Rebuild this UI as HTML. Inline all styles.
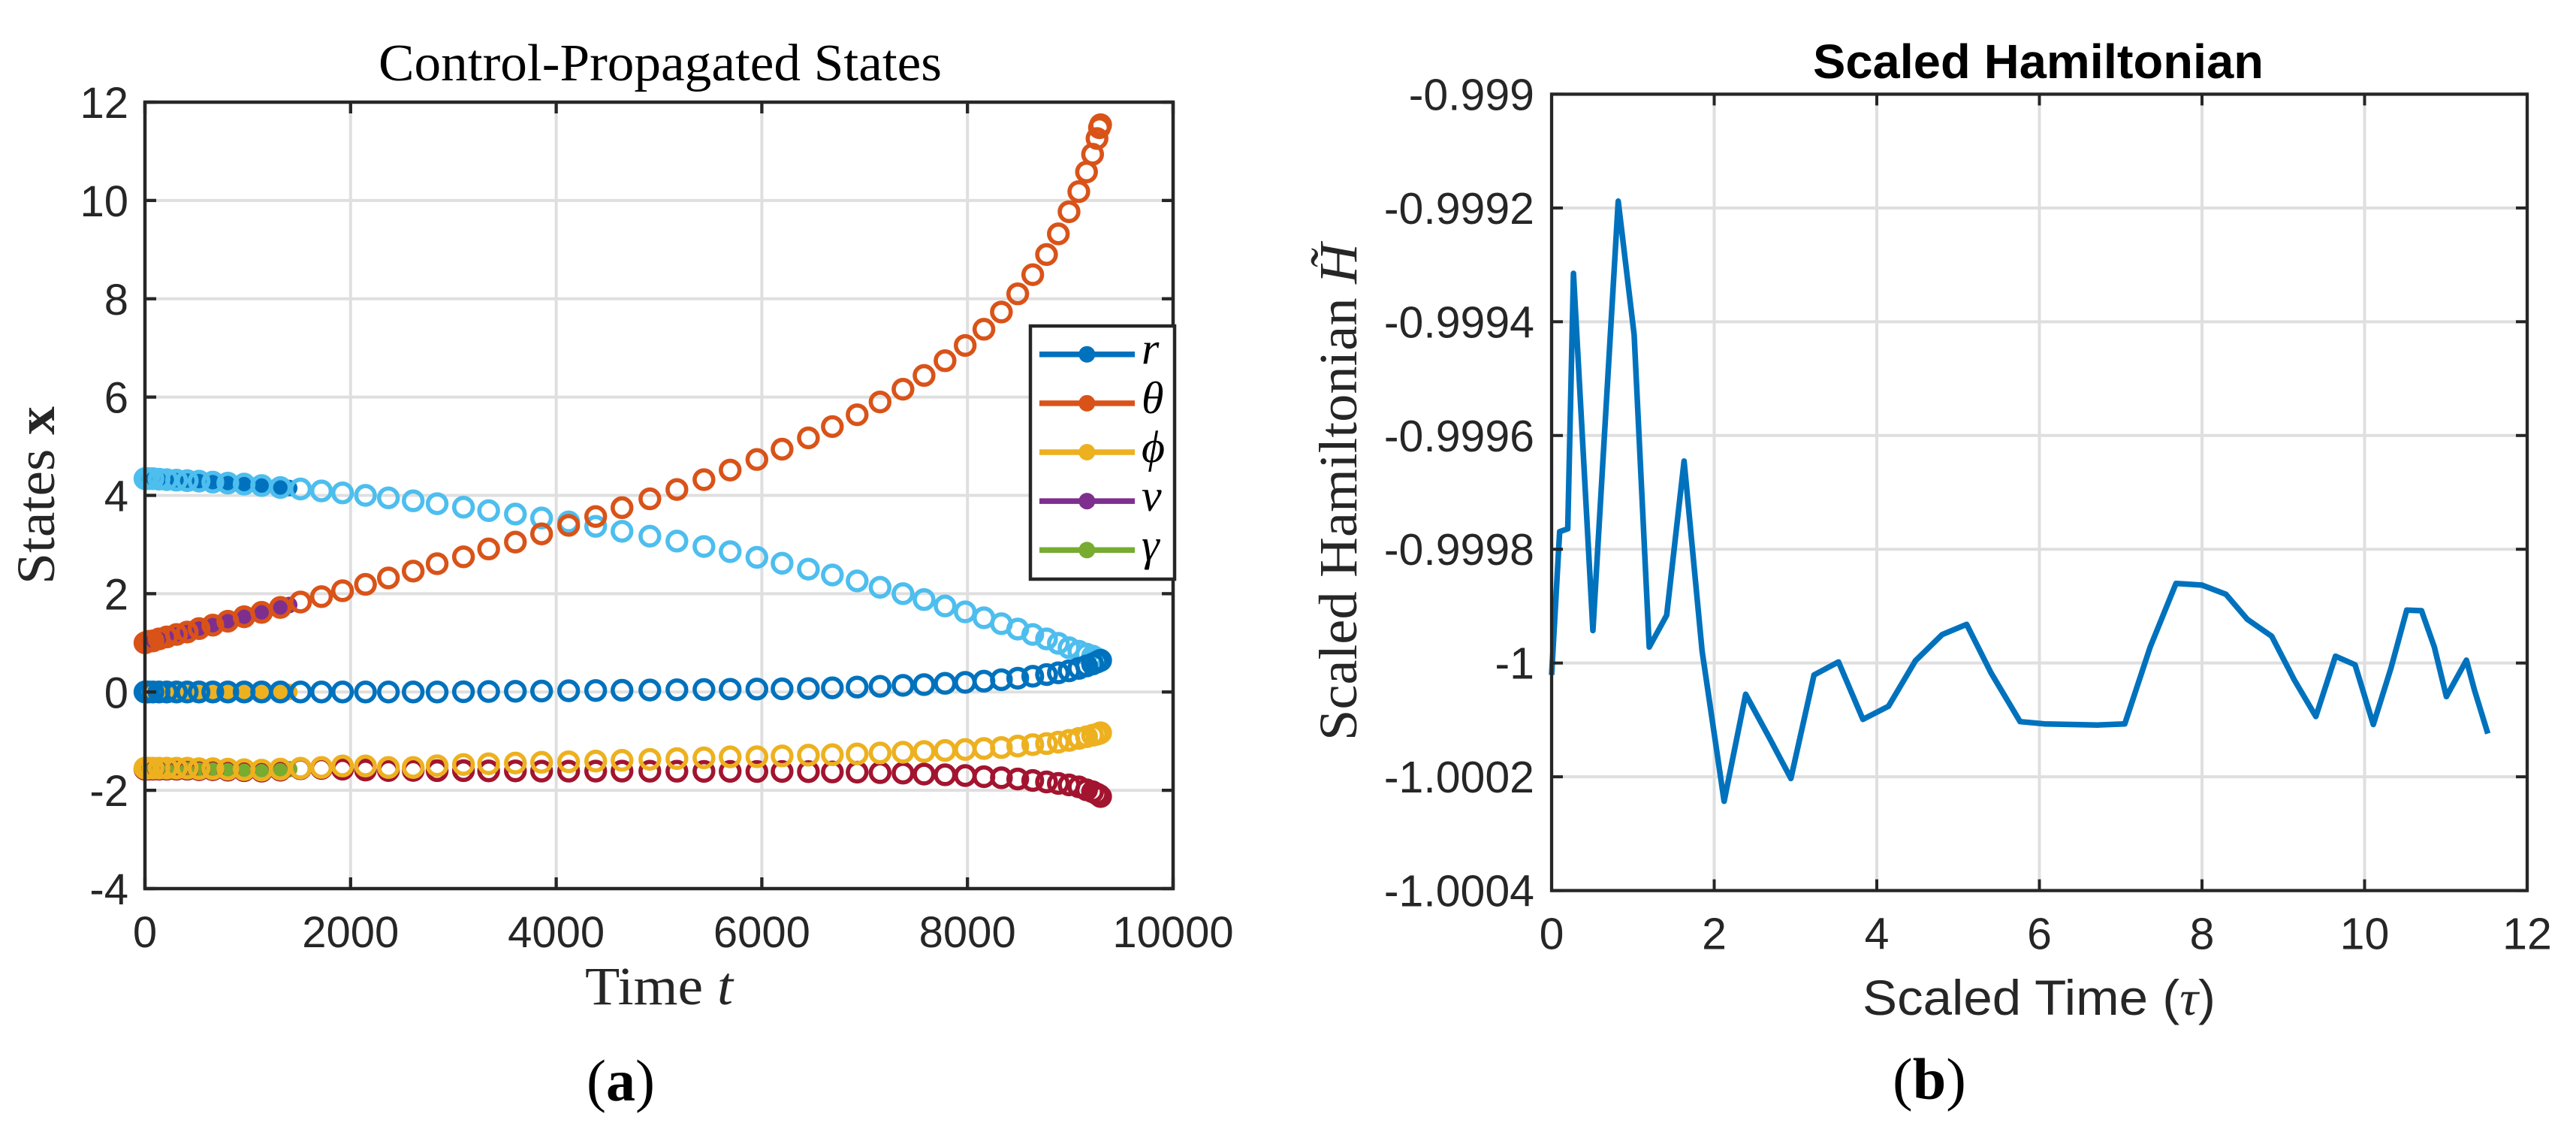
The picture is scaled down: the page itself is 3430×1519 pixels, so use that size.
<!DOCTYPE html>
<html lang="en">
<head>
<meta charset="utf-8">
<title>Control-Propagated States and Scaled Hamiltonian</title>
<style>
html,body{margin:0;padding:0;background:#fff;}
svg{display:block;}
.sans{font-family:"Liberation Sans",sans-serif;}
.serif{font-family:"Liberation Serif",serif;}
</style>
</head>
<body>
<svg id="figure" xmlns="http://www.w3.org/2000/svg" width="3430" height="1519" viewBox="0 0 3430 1519">
  <rect width="3430" height="1519" fill="#fff"/>
  <g id="left-chart"></g>
  <g id="right-chart"></g>

  <text class="serif" x="504" y="107" font-size="70" fill="#000" textLength="750" lengthAdjust="spacingAndGlyphs">Control-Propagated States</text>
  <text class="serif" x="779" y="1337" font-size="72" fill="#262626" textLength="197" lengthAdjust="spacingAndGlyphs">Time <tspan font-style="italic">t</tspan></text>
  <text class="serif" transform="translate(72,778) rotate(-90)" font-size="72" fill="#262626" textLength="237" lengthAdjust="spacingAndGlyphs">States <tspan font-weight="bold">x</tspan></text>
  <text class="serif" x="781" y="1465" font-size="78" fill="#000" textLength="91" lengthAdjust="spacingAndGlyphs">(<tspan font-weight="bold">a</tspan>)</text>

  <text class="sans" x="2414" y="104" font-size="64" font-weight="bold" fill="#000" textLength="600" lengthAdjust="spacingAndGlyphs">Scaled Hamiltonian</text>
  <text class="sans" x="2480" y="1351" font-size="66" fill="#262626" textLength="470" lengthAdjust="spacingAndGlyphs">Scaled Time (<tspan class="serif" font-style="italic">τ</tspan>)</text>
  <text class="serif" transform="translate(1806,986) rotate(-90)" font-size="72" fill="#262626" textLength="662" lengthAdjust="spacingAndGlyphs">Scaled Hamiltonian <tspan font-style="italic">H̃</tspan></text>
  <text class="serif" x="2520" y="1463" font-size="78" fill="#000" textLength="98" lengthAdjust="spacingAndGlyphs">(<tspan font-weight="bold">b</tspan>)</text>
</svg>

<script>
/* ---------- Panel (a) data ---------- */
const statesXTicks = [0, 2000, 4000, 6000, 8000, 10000];
const statesYTicks = [-4, -2, 0, 2, 4, 6, 8, 10, 12];

const ringTime = [0,11,35,78,137,212,307,411,526,660,806,965,1135,1317,1513,1717,1922,2145,2368,2609,2842,3098,3343,3603,3858,4121,4384,4640,4911,5174,5437,5692,5952,6197,6453,6686,6927,7150,7373,7578,7782,7978,8160,8330,8489,8635,8769,8884,8988,9083,9158,9217,9260,9284,9295];
const ringLightBlue = [4.34,4.34,4.34,4.34,4.33,4.32,4.31,4.30,4.29,4.27,4.25,4.23,4.20,4.16,4.13,4.09,4.05,4.00,3.95,3.89,3.83,3.76,3.69,3.62,3.54,3.46,3.37,3.27,3.17,3.07,2.96,2.855,2.74,2.62,2.50,2.38,2.26,2.13,2.00,1.88,1.75,1.63,1.51,1.39,1.28,1.17,1.08,0.99,0.90,0.83,0.77,0.73,0.68,0.66,0.64];
const ringDarkRed = [-1.57,-1.57,-1.57,-1.57,-1.57,-1.57,-1.57,-1.57,-1.58,-1.58,-1.59,-1.60,-1.61,-1.59,-1.56,-1.555,-1.57,-1.587,-1.597,-1.595,-1.60,-1.60,-1.605,-1.605,-1.61,-1.61,-1.61,-1.61,-1.612,-1.612,-1.615,-1.615,-1.617,-1.617,-1.62,-1.627,-1.63,-1.64,-1.65,-1.67,-1.684,-1.70,-1.724,-1.745,-1.77,-1.80,-1.83,-1.86,-1.89,-1.93,-1.99,-2.03,-2.075,-2.105,-2.127];
const ringBlue = [0,0,0,0,0,0,0,0,0,0,0,0,0,0,0,0,0,0,0,0,0,0.005,0.01,0.015,0.02,0.025,0.03,0.035,0.04,0.045,0.05,0.055,0.06,0.064,0.07,0.084,0.10,0.115,0.135,0.15,0.176,0.196,0.22,0.25,0.28,0.32,0.355,0.39,0.43,0.48,0.53,0.57,0.61,0.635,0.645];
const ringOrange = [1.00,1.01,1.03,1.04,1.08,1.12,1.17,1.22,1.29,1.36,1.44,1.53,1.62,1.72,1.83,1.94,2.06,2.19,2.32,2.46,2.61,2.75,2.91,3.05,3.217,3.39,3.57,3.75,3.93,4.12,4.32,4.515,4.73,4.94,5.17,5.40,5.64,5.90,6.16,6.44,6.74,7.05,7.38,7.73,8.10,8.49,8.90,9.32,9.77,10.18,10.58,10.94,11.26,11.48,11.54];
const ringYellow = [-1.55,-1.55,-1.55,-1.55,-1.55,-1.55,-1.55,-1.55,-1.56,-1.56,-1.57,-1.58,-1.59,-1.57,-1.55,-1.536,-1.505,-1.505,-1.536,-1.536,-1.50,-1.475,-1.46,-1.445,-1.43,-1.42,-1.405,-1.39,-1.37,-1.355,-1.34,-1.32,-1.317,-1.30,-1.285,-1.276,-1.26,-1.24,-1.225,-1.21,-1.19,-1.17,-1.15,-1.13,-1.10,-1.07,-1.05,-1.02,-0.985,-0.945,-0.91,-0.88,-0.86,-0.84,-0.83];

const dotTime = [0,11,35,78,137,212,307,411,526,660,806,965,1135,1317,1403];
const dotR = [4.34,4.34,4.34,4.34,4.33,4.32,4.31,4.30,4.29,4.27,4.25,4.23,4.20,4.16,4.15];
const dotTheta = [0,0,0,0,0,0,0,0,0,0,0,0,0,0,0];
const dotPhi = [0,0,0,0,0,0,0,0,0,0,0,0,0,0,0];
const dotV = [1.00,1.01,1.03,1.04,1.08,1.12,1.17,1.22,1.29,1.36,1.44,1.53,1.62,1.72,1.77];
const dotGamma = [-1.57,-1.57,-1.57,-1.57,-1.57,-1.57,-1.57,-1.57,-1.57,-1.57,-1.57,-1.57,-1.57,-1.57,-1.57];

const legendLabels = ["r", "θ", "ϕ", "v", "γ"];

/* ---------- Panel (b) data ---------- */
const hamXTicks = [0, 2, 4, 6, 8, 10, 12];
const hamYTicks = [-1.0004, -1.0002, -1, -0.9998, -0.9996, -0.9994, -0.9992, -0.999];
const hamYTickLabels = ["-1.0004", "-1.0002", "-1", "-0.9998", "-0.9996", "-0.9994", "-0.9992", "-0.999"];
const hamTau = [0,0.099,0.199,0.269,0.508,0.819,1.015,1.201,1.415,1.630,1.851,2.122,2.387,2.677,2.943,3.228,3.529,3.829,4.144,4.475,4.804,5.105,5.404,5.763,6.064,6.402,6.721,7.050,7.363,7.680,7.998,8.294,8.557,8.858,9.133,9.400,9.642,9.883,10.107,10.322,10.518,10.700,10.858,11.006,11.253,11.352,11.516];
const hamValue = [-1.000021,-0.999769,-0.999764,-0.999315,-0.999943,-0.999188,-0.999423,-0.999972,-0.999916,-0.999645,-0.999979,-1.000243,-1.000055,-1.000131,-1.000203,-1.000021,-0.999998,-1.000099,-1.000076,-0.999996,-0.99995,-0.999932,-1.000017,-1.000103,-1.000107,-1.000108,-1.000109,-1.000107,-0.999972,-0.99986,-0.999863,-0.999879,-0.999923,-0.999953,-1.000029,-1.000094,-0.999988,-1.000003,-1.000108,-1.00001,-0.999907,-0.999908,-0.999972,-1.000059,-0.999995,-1.000048,-1.000124];

/* ---------- Helpers ---------- */
const NS = "http://www.w3.org/2000/svg";
function mk(parent, tag, attrs, text) {
  const el = document.createElementNS(NS, tag);
  for (const k in attrs) el.setAttribute(k, attrs[k]);
  if (text !== undefined) el.textContent = text;
  parent.appendChild(el);
  return el;
}
const AXIS = "#262626", GRID = "#dfdfdf";
const LIGHTBLUE = "#4DBEEE", DARKRED = "#A2142F", BLUE = "#0072BD", ORANGE = "#D95319", YELLOW = "#EDB120", PURPLE = "#7E2F8E", GREEN = "#77AC30";

function drawFrame(root, box, xs, ys, xFn, yFn, gridW) {
  xs.forEach(function (v) {
    if (v === xs[0] || v === xs[xs.length - 1]) return;
    const g = mk(root, "line", {x1: xFn(v), x2: xFn(v), y1: box.T, y2: box.B, stroke: GRID, "stroke-width": gridW});
    
    
  });
  ys.forEach(function (v) {
    if (v === ys[0] || v === ys[ys.length - 1]) return;
    const g = mk(root, "line", {x1: box.L, x2: box.R, y1: yFn(v), y2: yFn(v), stroke: GRID, "stroke-width": gridW});
    
    
  });
}
function drawAxes(root, box, xs, ys, xLabels, yLabels, xFn, yFn, cfg) {
  const tl = 15;
  xs.forEach(function (v) {
    const x = xFn(v);
    const t1 = mk(root, "line", {x1: x, x2: x, y1: box.B, y2: box.B - tl, stroke: AXIS, "stroke-width": cfg.tickW});
    
    
    const t2 = mk(root, "line", {x1: x, x2: x, y1: box.T, y2: box.T + tl, stroke: AXIS, "stroke-width": cfg.tickW});
    
    
  });
  ys.forEach(function (v) {
    const y = yFn(v);
    const t1 = mk(root, "line", {x1: box.L, x2: box.L + tl, y1: y, y2: y, stroke: AXIS, "stroke-width": cfg.tickW});
    
    
    const t2 = mk(root, "line", {x1: box.R, x2: box.R - tl, y1: y, y2: y, stroke: AXIS, "stroke-width": cfg.tickW});
    
    
  });
  const frame = mk(root, "rect", {x: box.L, y: box.T, width: box.R - box.L, height: box.B - box.T, fill: "none", stroke: AXIS, "stroke-width": cfg.axisW});
  
  
  xs.forEach(function (v, i) {
    const t = mk(root, "text", {x: xFn(v), y: box.B + 78, "text-anchor": "middle", "font-size": cfg.font, fill: AXIS, "class": "sans"}, xLabels[i]);
    
    
  });
  ys.forEach(function (v, i) {
    const t = mk(root, "text", {x: cfg.labelX, y: yFn(v) + 21, "text-anchor": "end", "font-size": cfg.font, fill: AXIS, "class": "sans"}, yLabels[i]);
    
    
  });
}

/* ---------- Panel (a) ---------- */
const boxA = {L: 193, R: 1562, T: 136, B: 1183};
function xA(v) { return boxA.L + (v - 0) / 10000 * (boxA.R - boxA.L); }
function yA(v) { return boxA.B - (v + 4) / 16 * (boxA.B - boxA.T); }
const left = document.getElementById("left-chart");
drawFrame(left, boxA, statesXTicks, statesYTicks, xA, yA, 4);

function drawDots(values, color, name) {
  const g = mk(left, "g", {fill: color});
  
  
  values.forEach(function (v, i) {
    const c = mk(g, "circle", {cx: xA(dotTime[i]), cy: yA(v), r: 11});
    
    
  });
}
function drawRings(values, color, name) {
  const g = mk(left, "g", {fill: "none", stroke: color, "stroke-width": 5.6});
  
  
  values.forEach(function (v, i) {
    const c = mk(g, "circle", {cx: xA(ringTime[i]), cy: yA(v), r: 12.4});
    
    
  });
}
drawDots(dotR, BLUE, "r-discrete-series");
drawDots(dotTheta, ORANGE, "theta-discrete-series");
drawDots(dotPhi, YELLOW, "phi-discrete-series");
drawDots(dotV, PURPLE, "v-discrete-series");
drawDots(dotGamma, GREEN, "gamma-discrete-series");
drawRings(ringLightBlue, LIGHTBLUE, "r-propagated-series");
drawRings(ringDarkRed, DARKRED, "gamma-propagated-series");
drawRings(ringBlue, BLUE, "theta-propagated-series");
drawRings(ringOrange, ORANGE, "v-propagated-series");
drawRings(ringYellow, YELLOW, "phi-propagated-series");

drawAxes(left, boxA, statesXTicks, statesYTicks, statesXTicks.map(String), statesYTicks.map(String), xA, yA, {tickW: 4.3, axisW: 4.5, font: 58, labelX: 171});

/* legend */
const legend = mk(left, "g", {});


const legendBox = mk(legend, "rect", {x: 1372, y: 434, width: 192, height: 337, fill: "#fff", stroke: AXIS, "stroke-width": 4.5});


const legendColors = [BLUE, ORANGE, YELLOW, PURPLE, GREEN];
legendLabels.forEach(function (lab, i) {
  const y = 471.7 + i * 65.15;
  const line = mk(legend, "line", {x1: 1384, x2: 1511, y1: y, y2: y, stroke: legendColors[i], "stroke-width": 7.5});
  
  
  const dot = mk(legend, "circle", {cx: 1447.3, cy: y, r: 11, fill: legendColors[i]});
  
  
  const t = mk(legend, "text", {x: 1520, y: y + 13, "font-size": 60, "font-style": "italic", fill: "#000", "class": "serif"}, lab);
  
  
});

/* ---------- Panel (b) ---------- */
const boxB = {L: 2066, R: 3365, T: 125.4, B: 1185.6};
function xB(v) { return boxB.L + v / 12 * (boxB.R - boxB.L); }
function yB(v) { return boxB.B - (v + 1.0004) / 0.0014 * (boxB.B - boxB.T); }
const right = document.getElementById("right-chart");
drawFrame(right, boxB, hamXTicks, hamYTicks, xB, yB, 4);

const hamPoints = hamTau.map(function (t, i) { return xB(t).toFixed(1) + "," + yB(hamValue[i]).toFixed(1); }).join(" ");
const hamLine = mk(right, "polyline", {points: hamPoints, fill: "none", stroke: BLUE, "stroke-width": 7.5, "stroke-linejoin": "round"});



drawAxes(right, boxB, hamXTicks, hamYTicks, hamXTicks.map(String), hamYTickLabels, xB, yB, {tickW: 4, axisW: 4.3, font: 59, labelX: 2043});
</script>
</body>
</html>
